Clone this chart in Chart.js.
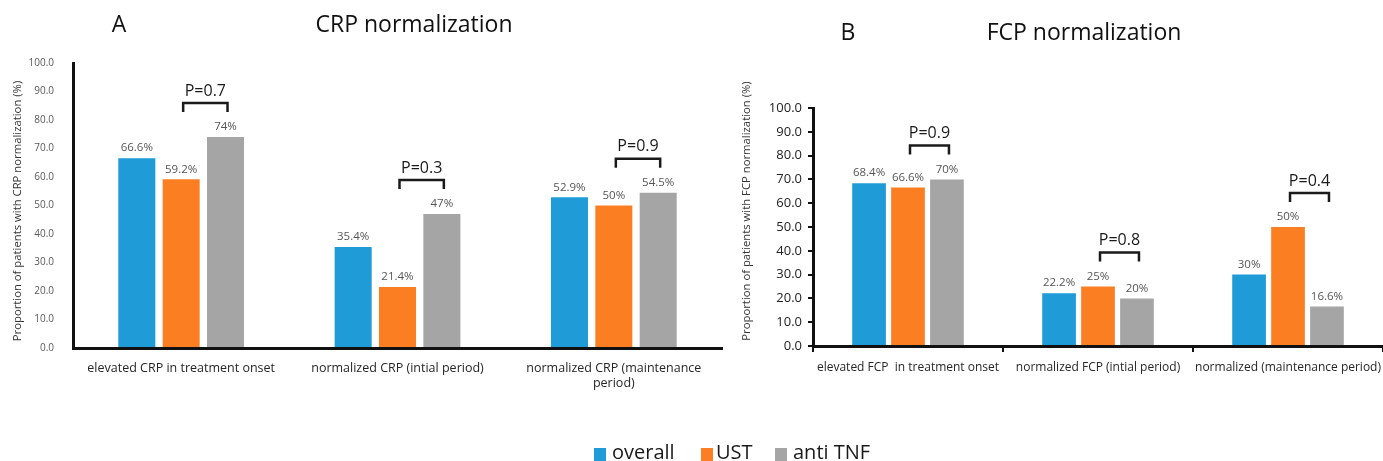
<!DOCTYPE html>
<html>
<head>
<meta charset="utf-8">
<script src="https://cdn.jsdelivr.net/npm/chart.js@4.4.0/dist/chart.umd.min.js"></script>
<style>
  html, body { margin: 0; padding: 0; background: #fff; overflow: hidden; width: 1383px; height: 461px; }
  #wrap { position: relative; width: 1383px; height: 461px; overflow: hidden; background: #fff; }
  canvas { position: absolute; top: 0; }
  #cA { left: 0; }
  #cB { left: 740px; }
  .lg-box { position: absolute; width: 12px; height: 13px; top: 448px; }
  .lg-txt { position: absolute; top: 440px; font: 20px "Open Sans", sans-serif; line-height: 24px; color: #1a1a1a; white-space: nowrap; }
</style>
</head>
<body>
<div id="wrap">
  <canvas id="cA" width="740" height="461"></canvas>
  <canvas id="cB" width="649" height="461"></canvas>
  <div id="legend"></div>
</div>
<script>
// ---------------- data ----------------
const seriesNames = ['overall', 'UST', 'anti TNF'];
const seriesColors = ['#1f9bd7', '#fb7e23', '#a5a5a5'];

const categoriesA = ['elevated CRP in treatment onset', 'normalized CRP (intial period)', ['normalized CRP (maintenance', 'period)']];
const overallA = [66.6, 35.4, 52.9];
const ustA = [59.2, 21.4, 50];
const antiTnfA = [74, 47, 54.5];
const pValuesA = ['P=0.7', 'P=0.3', 'P=0.9'];

const categoriesB = ['elevated FCP  in treatment onset', 'normalized FCP (intial period)', 'normalized (maintenance period)'];
const overallB = [68.4, 22.2, 30];
const ustB = [66.6, 25, 50];
const antiTnfB = [70, 20, 16.6];
const pValuesB = ['P=0.9', 'P=0.8', 'P=0.4'];

const yMin = 0, yMax = 100, yStep = 10;

// ---------------- annotation plugin ----------------
const annot = {
  id: 'annot',
  afterDatasetsDraw(chart, args, o) {
    const ctx = chart.ctx;
    ctx.save();
    // value labels above bars
    ctx.font = o.valueFont;
    ctx.fillStyle = '#555';
    ctx.textAlign = 'center';
    ctx.textBaseline = 'middle';
    chart.data.datasets.forEach((ds, di) => {
      chart.getDatasetMeta(di).data.forEach((bar, i) => {
        ctx.fillText(ds.data[i] + '%', bar.x, bar.y - 10);
      });
    });
    // p-value brackets between UST and anti TNF bars
    const mU = chart.getDatasetMeta(1), mT = chart.getDatasetMeta(2);
    o.pValues.forEach((p, i) => {
      const u = mU.data[i], t = mT.data[i];
      const top = Math.min(u.y, t.y) - 34;
      const x1 = u.x + 2, x2 = t.x + 2;
      ctx.strokeStyle = '#1a1a1a';
      ctx.lineWidth = 2.5;
      ctx.beginPath();
      ctx.moveTo(x1, top + 9);
      ctx.lineTo(x1, top);
      ctx.lineTo(x2, top);
      ctx.lineTo(x2, top + 9);
      ctx.stroke();
      ctx.font = '16px "Open Sans", sans-serif';
      ctx.fillStyle = '#1a1a1a';
      ctx.fillText(p, (x1 + x2) / 2, top - 12);
    });
    // panel letter and title
    ctx.font = '23px "Open Sans", sans-serif';
    ctx.fillStyle = '#111';
    ctx.fillText(o.letter, o.letterX, o.titleY);
    ctx.fillText(o.title, o.titleX, o.titleY);
    // rotated y-axis title
    ctx.translate(o.yTitleX, o.yTitleY);
    ctx.rotate(-Math.PI / 2);
    ctx.font = '11.3px "Open Sans", sans-serif';
    ctx.fillStyle = '#333';
    ctx.fillText(o.yTitle, 0, 0);
    ctx.restore();
  }
};

function makeDatasets(a, b, c, bp) {
  return [a, b, c].map((d, i) => ({
    label: seriesNames[i],
    data: d,
    backgroundColor: seriesColors[i],
    borderWidth: 0,
    categoryPercentage: 0.615,
    barPercentage: bp
  }));
}

function makeChart(id, cats, data, cfg) {
  return new Chart(document.getElementById(id), {
    type: 'bar',
    data: { labels: cats, datasets: data },
    plugins: [annot],
    options: {
      responsive: false,
      animation: false,
      devicePixelRatio: 1,
      layout: { padding: { top: cfg.top, right: cfg.right, left: 0, bottom: 0 } },
      plugins: {
        legend: { display: false },
        tooltip: { enabled: false },
        annot: cfg.annot
      },
      scales: {
        x: {
          afterFit: s => { s.height = 461 - cfg.bottom; },
          grid: { display: true, drawOnChartArea: false, drawTicks: cfg.xTicks, tickLength: 6, color: '#111', lineWidth: 2, offset: true },
          border: { display: true, color: '#111', width: 3 },
          ticks: { color: '#262626', padding: cfg.xPad, font: { family: 'Open Sans', size: cfg.xSize, lineHeight: 1.2 }, maxRotation: 0, autoSkip: false }
        },
        y: {
          min: yMin, max: yMax,
          afterFit: s => { s.width = 73; },
          grid: { display: true, drawOnChartArea: false, drawTicks: cfg.yTicks, tickLength: 5, color: '#111', lineWidth: 2 },
          border: { display: true, color: '#111', width: 3 },
          ticks: { stepSize: yStep, color: cfg.yColor, padding: cfg.yPad, font: cfg.yFont, callback: v => Number(v).toFixed(1) }
        }
      }
    }
  });
}

makeChart('cA', categoriesA, makeDatasets(overallA, ustA, antiTnfA, 0.835), {
  top: 63, right: 18, bottom: 348, xTicks: false, xPad: 13, xSize: 12.5, yTicks: false, yPad: 19,
  yColor: '#595959', yFont: { family: "'Liberation Sans Narrow', 'Open Sans', sans-serif", size: 10 },
  annot: { pValues: pValuesA, valueFont: '11.5px "Open Sans", sans-serif', letter: 'A', letterX: 119, title: 'CRP normalization', titleX: 414, titleY: 25,
           yTitle: 'Proportion of patients with CRP normalization (%)', yTitleX: 18, yTitleY: 211 }
});

makeChart('cB', categoriesB, makeDatasets(overallB, ustB, antiTnfB, 0.865), {
  top: 108, right: 0, bottom: 346, xTicks: true, xPad: 8, xSize: 12, yTicks: true, yPad: 6,
  yColor: '#222', yFont: { family: 'Open Sans', size: 13 },
  annot: { pValues: pValuesB, valueFont: '11.5px "Open Sans", sans-serif', letter: 'B', letterX: 108, title: 'FCP normalization', titleX: 344, titleY: 33,
           yTitle: 'Proportion of patients with FCP normalization (%)', yTitleX: 7, yTitleY: 211 }
});

// ---------------- legend ----------------
const lg = document.getElementById('legend');
const boxX = [594, 701, 775], txtX = [612, 716, 793];
seriesNames.forEach((n, i) => {
  const b = document.createElement('div');
  b.className = 'lg-box'; b.style.left = boxX[i] + 'px'; b.style.background = seriesColors[i];
  const t = document.createElement('div');
  t.className = 'lg-txt'; t.style.left = txtX[i] + 'px'; t.textContent = n;
  lg.appendChild(b); lg.appendChild(t);
});
</script>
</body>
</html>
